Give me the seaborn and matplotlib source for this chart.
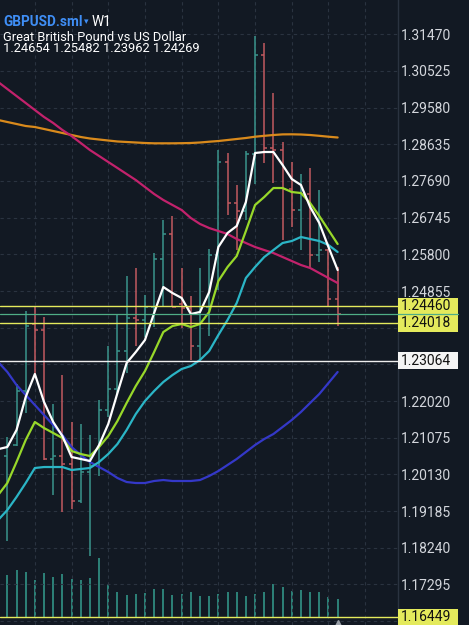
import matplotlib
matplotlib.use("Agg")
import matplotlib.pyplot as plt
import seaborn as sns
import pandas as pd
import numpy as np
from matplotlib.patches import Rectangle

# ---------------- data ----------------
symbol = "GBPUSD.sml"
timeframe = "W1"
description = "Great British Pound vs US Dollar"

opens = [1.2060, 1.2088, 1.2228, 1.2401, 1.2386, 1.2053, 1.2060, 1.2040, 1.1944, 1.2020,
         1.2035, 1.2178, 1.2232, 1.2332, 1.2415, 1.2412, 1.2443, 1.2567, 1.2633, 1.2452,
         1.2441, 1.2345, 1.2443, 1.2577, 1.2818, 1.2713, 1.2692, 1.2838, 1.3094, 1.2853,
         1.2850, 1.2748, 1.2693, 1.2736, 1.2577, 1.2590, 1.24654]
highs = [1.2110, 1.2247, 1.2435, 1.2448, 1.2418, 1.2194, 1.2269, 1.2148, 1.2144, 1.2114,
         1.2204, 1.2343, 1.2424, 1.2525, 1.2546, 1.2474, 1.2584, 1.2668, 1.2679, 1.2545,
         1.2472, 1.2544, 1.2593, 1.2848, 1.2842, 1.2759, 1.2846, 1.3142, 1.3124, 1.2995,
         1.2870, 1.2818, 1.2787, 1.2802, 1.2746, 1.2595, 1.25482]
lows = [1.1841, 1.2087, 1.2172, 1.2263, 1.2049, 1.1961, 1.1915, 1.1925, 1.1940, 1.1803,
        1.2010, 1.2162, 1.2218, 1.2275, 1.2345, 1.2367, 1.2392, 1.2444, 1.2443, 1.2391,
        1.2308, 1.2307, 1.2369, 1.2487, 1.2681, 1.2590, 1.2668, 1.2760, 1.2815, 1.2763,
        1.2617, 1.2650, 1.2591, 1.2548, 1.2560, 1.2445, 1.23962]
closes = [1.2088, 1.2228, 1.2395, 1.2386, 1.2053, 1.2060, 1.2040, 1.1944, 1.2020, 1.2035,
          1.2178, 1.2232, 1.2332, 1.2415, 1.2412, 1.2443, 1.2567, 1.2633, 1.2444, 1.2441,
          1.2345, 1.2443, 1.2577, 1.2818, 1.2713, 1.2692, 1.2838, 1.3094, 1.2853, 1.2850,
          1.2748, 1.2693, 1.2736, 1.2577, 1.2590, 1.2465, 1.24269]
volumes = [423, 467, 450, 367, 440, 400, 433, 380, 367, 390, 590, 333, 250, 217, 230, 240,
           280, 280, 217, 227, 250, 213, 213, 230, 250, 250, 207, 227, 250, 333, 300, 257,
           273, 250, 247, 197, 180]

# moving averages, one value per bar starting one bar before the first visible candle
ma_white = [1.2078, 1.20835, 1.21273, 1.22123, 1.22716, 1.21994, 1.21479, 1.21118, 1.20577,
            1.20526, 1.20474, 1.20886, 1.21428, 1.22226, 1.22999, 1.23283, 1.23592, 1.24288,
            1.24958, 1.24803, 1.24675, 1.24262, 1.24314, 1.24829, 1.25989, 1.26350, 1.26530,
            1.27148, 1.28411, 1.28437, 1.28437, 1.28102, 1.27741, 1.27587, 1.27020, 1.26607,
            1.25989, 1.25396]
ma_green = [1.19598, 1.19907, 1.20448, 1.21015, 1.21479, 1.21324, 1.21196, 1.21067, 1.20732,
            1.20654, 1.20603, 1.20835, 1.21118, 1.21505, 1.21969, 1.22407, 1.22793, 1.23283,
            1.23798, 1.23953, 1.24005, 1.23927, 1.24005, 1.24314, 1.25113, 1.25473, 1.25757,
            1.26401, 1.27071, 1.27277, 1.27509, 1.27509, 1.27406, 1.27380, 1.27123, 1.26788,
            1.26427, 1.26066]
ma_cyan = [1.18954, 1.19211, 1.19546, 1.19907, 1.20294, 1.20319, 1.20319, 1.20319, 1.20242,
           1.20268, 1.20294, 1.20448, 1.20654, 1.20912, 1.21273, 1.21685, 1.22020, 1.22278,
           1.22510, 1.22690, 1.22845, 1.22922, 1.23077, 1.23309, 1.23721, 1.24108, 1.24546,
           1.25190, 1.25473, 1.25731, 1.25911, 1.26092, 1.26143, 1.26247, 1.26195, 1.26143,
           1.26040, 1.25860]
ma_blue = [1.23025, 1.22768, 1.22433, 1.22175, 1.21917, 1.21659, 1.21402, 1.21144, 1.20835,
           1.20629, 1.20448, 1.20319, 1.20191, 1.20036, 1.19933, 1.19907, 1.19907, 1.19959,
           1.19984, 1.19959, 1.19959, 1.19959, 1.19984, 1.20088, 1.20216, 1.20371, 1.20526,
           1.20706, 1.20886, 1.21041, 1.21170, 1.21350, 1.21531, 1.21737, 1.21969, 1.22201,
           1.22484, 1.22768]
ma_magenta = [1.30241, 1.30060, 1.29880, 1.29700, 1.29519, 1.29339, 1.29184, 1.29004, 1.28849,
              1.28669, 1.28488, 1.28334, 1.28179, 1.28025, 1.27870, 1.27715, 1.27535, 1.27355,
              1.27200, 1.27071, 1.26942, 1.26736, 1.26582, 1.26478, 1.26401, 1.26324, 1.26195,
              1.26092, 1.25989, 1.25911, 1.25834, 1.25731, 1.25628, 1.25525, 1.25448, 1.25319,
              1.25190, 1.25061]
ma_orange = [1.29262, 1.29210, 1.29159, 1.29107, 1.29081, 1.29030, 1.28978, 1.28927, 1.28875,
             1.28824, 1.28785, 1.28759, 1.28733, 1.28708, 1.28695, 1.28682, 1.28669, 1.28661,
             1.28661, 1.28661, 1.28664, 1.28669, 1.28682, 1.28702, 1.28720, 1.28746, 1.28772,
             1.28798, 1.28831, 1.28854, 1.28875, 1.28891, 1.28893, 1.28888, 1.28875, 1.28854,
             1.28831, 1.28811]

price_ticks = [1.31470, 1.30525, 1.29580, 1.28635, 1.27690, 1.26745, 1.25800, 1.24855,
               1.23910, 1.22965, 1.22020, 1.21075, 1.20130, 1.19185, 1.18240, 1.17295, 1.16350]
# tick labels that sit under the price boxes are not shown in the reference
hidden_ticks = [1.23910, 1.22965, 1.16350]

yellow_levels = [1.24460, 1.24018, 1.16449]
white_levels = [1.23064]
last_price = closes[-1]

# ---------------- style ----------------
sns.set_theme(style="dark")
plt.rcParams["font.family"] = ["Roboto", "DejaVu Sans"]

BG = "#121923"
GRID = "#2a3340"
UP = "#3a948c"
DN = "#c25a60"
YEL = "#e4ea5c"
W, H = 469, 625
AXW = 398 / W

fig = plt.figure(figsize=(W / 100, H / 100), dpi=100, facecolor=BG)
vax = fig.add_axes([0, 0, AXW, 1])
ax = fig.add_axes([0, 0, AXW, 1], facecolor="none")

XL = (-0.80, 42.58)
YL = (1.16248, 1.32354)

x = np.arange(len(closes))
xm = np.arange(-1, len(closes))

# volume sub-window
vax.vlines(x, 0, volumes, color="#2f8a80", lw=1.3)
vax.set_xlim(*XL)
vax.set_ylim(-80, 6170)
vax.axis("off")

# grid
ax.set_xlim(*XL)
ax.set_ylim(*YL)
ax.set_xticks(np.arange(3, 43, 4))
ax.set_yticks(price_ticks)
ax.set_yticklabels(["" if v in hidden_ticks else f"{v:.5f}" for v in price_ticks])
ax.grid(True, color=GRID, ls=(0, (3, 3)), lw=0.8)
ax.yaxis.tick_right()
ax.tick_params(axis="x", length=0, labelbottom=False)
ax.tick_params(axis="y", length=0, pad=2, labelsize=10, labelcolor="#d3d6dc")
for s in ["top", "left", "bottom"]:
    ax.spines[s].set_visible(False)
ax.spines["right"].set_color(GRID)
ax.spines["right"].set_linewidth(1.0)

# OHLC bars
o = np.array(opens); c = np.array(closes)
cols = np.where(c >= o, UP, DN)
ax.vlines(x, lows, highs, colors=cols, lw=1.1, zorder=3)
ax.hlines(opens, x - 0.33, x, colors=cols, lw=1.1, zorder=3)
ax.hlines(closes, x, x + 0.33, colors=cols, lw=1.1, zorder=3)

# moving averages through seaborn
names = ["orange", "magenta", "blue", "cyan", "green", "white"]
series = [ma_orange, ma_magenta, ma_blue, ma_cyan, ma_green, ma_white]
palette = {"orange": "#d98a1c", "magenta": "#c2226c", "blue": "#3438c8",
           "cyan": "#2bb5c6", "green": "#98d82a", "white": "#ffffff"}
df = pd.DataFrame({
    "x": np.tile(xm, len(names)),
    "price": np.concatenate(series),
    "ma": np.repeat(names, len(xm)),
})
sns.lineplot(data=df, x="x", y="price", hue="ma", hue_order=names, palette=palette,
             linewidth=1.6, legend=False, ax=ax, sort=False, estimator=None, zorder=4)
ax.set_xlabel("")
ax.set_ylabel("")

# horizontal levels + price labels
trans = ax.get_yaxis_transform()
BOXW = 60 / 398
HH = 8.5 * (YL[1] - YL[0]) / H
for v in yellow_levels:
    ax.axhline(v, color=YEL, lw=1.0, zorder=5)
for v in white_levels:
    ax.axhline(v, color="#eeeeee", lw=1.0, zorder=5)
for v in yellow_levels + white_levels:
    fc = YEL if v in yellow_levels else "#f4f4f4"
    ax.add_patch(Rectangle((1.0, v - HH), BOXW, 2 * HH, transform=trans, fc=fc, ec="none",
                           clip_on=False, zorder=6))
    ax.text(1.0 + 3 / 398, v, f"{v:.5f}", transform=trans, va="center", ha="left",
            fontsize=10, color="#111111", zorder=7, clip_on=False)
ax.plot([0, 1.0 + BOXW], [last_price, last_price], transform=trans, color="#4fae86",
        lw=0.9, clip_on=False, zorder=8)

# scroll marker at the bottom
ax.plot([x[-1]], [YL[0] + 1.3 * (YL[1] - YL[0]) / H], marker="^", ms=6,
        color="#9aa0a8", clip_on=False, zorder=9, ls="none")

# header text
fig.text(3 / W, 1 - 25.5 / H, symbol, color="#3f8ef5", fontsize=9.8, fontweight="bold",
         va="baseline", ha="left")
fig.text(84 / W, 1 - 24 / H, "\u25be", color="#3f8ef5", fontsize=6.5, va="baseline",
         ha="left", family=["DejaVu Sans"])
fig.text(92 / W, 1 - 25.5 / H, timeframe, color="#ffffff", fontsize=9.8, va="baseline",
         ha="left")
ohlc_line = f"{opens[-1]:.5f} {highs[-1]:.5f} {lows[-1]:.5f} {closes[-1]:.5f}"
fig.text(3 / W, 1 - 52.5 / H, description + "\n" + ohlc_line, color="#ffffff",
         fontsize=9.3, va="baseline", ha="left", linespacing=0.85)

fig.savefig("out.png", dpi=100, facecolor=BG)
